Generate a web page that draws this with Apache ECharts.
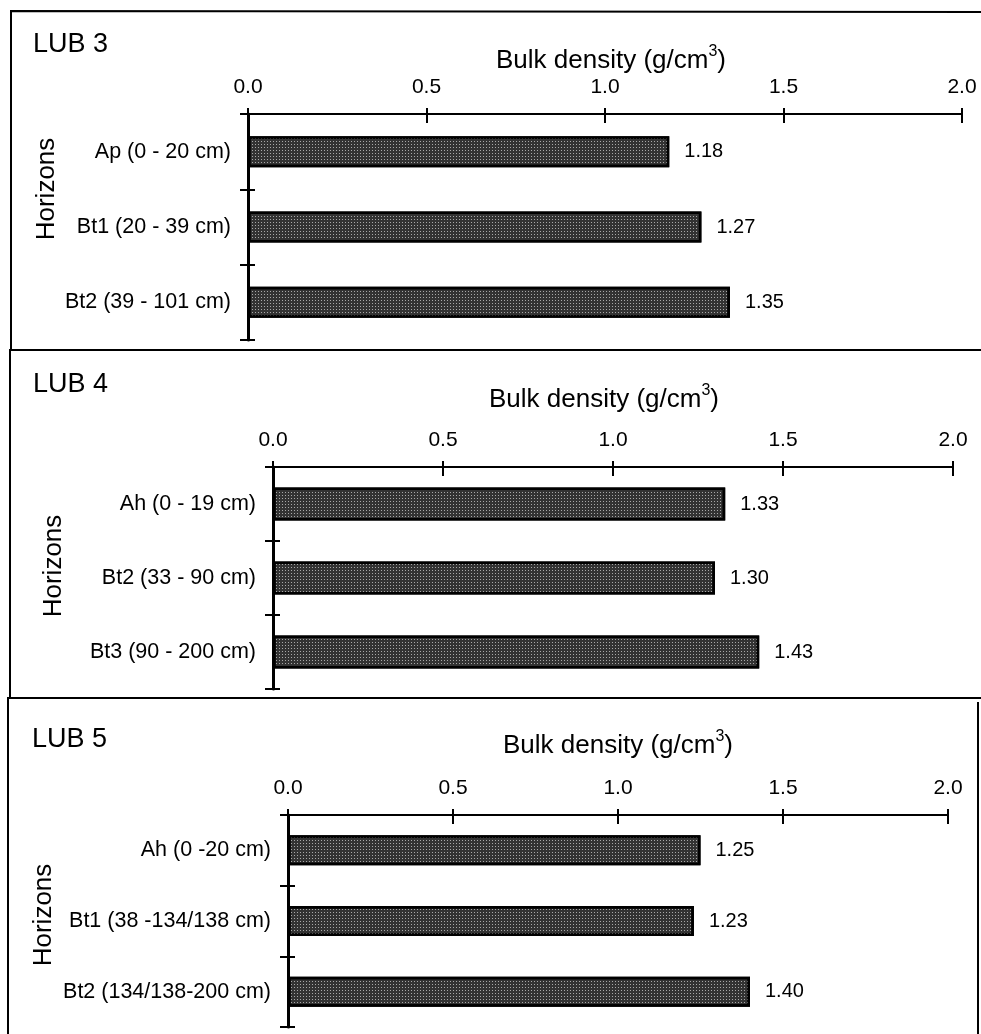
<!DOCTYPE html>
<html>
<head>
<meta charset="utf-8">
<title>Bulk density by horizon</title>
<script src="https://cdn.jsdelivr.net/npm/echarts@6/dist/echarts.min.js"></script>
<style>
  html, body { margin: 0; padding: 0; background: #fff; }
  #chart { width: 981px; height: 1034px; }
</style>
</head>
<body>
<div id="chart"></div>
<script>
// Profiles and their horizons
const profiles = ['LUB 3', 'LUB 4', 'LUB 5'];

const horizonsLub3 = ['Ap (0 - 20 cm)', 'Bt1 (20 - 39 cm)', 'Bt2 (39 - 101 cm)'];
const densityLub3 = [1.18, 1.27, 1.35];

const horizonsLub4 = ['Ah (0 - 19 cm)', 'Bt2 (33 - 90 cm)', 'Bt3 (90 - 200 cm)'];
const densityLub4 = [1.33, 1.30, 1.43];

const horizonsLub5 = ['Ah (0 -20 cm)', 'Bt1 (38 -134/138 cm)', 'Bt2 (134/138-200 cm)'];
const densityLub5 = [1.25, 1.23, 1.40];

// Bulk density axis: 0.0 .. 2.0 every 0.5
const axisMin = 0;
const axisMax = 2;
const axisStep = 0.5;

const horizonLists = [horizonsLub3, horizonsLub4, horizonsLub5];
const densityLists = [densityLub3, densityLub4, densityLub5];

// Panel geometry (pixels)
const panelLayout = [
  { grid: { left: 248, top: 114, width: 714, height: 226 }, barWidth: 31, nameGap: 40, namePad: [0, 0, 0, 12], lub: [33, 45], hor: [47, 189] },
  { grid: { left: 273, top: 467, width: 680, height: 222 }, barWidth: 33, nameGap: 54, namePad: [0, 18, 0, 0], lub: [33, 385], hor: [54, 566] },
  { grid: { left: 288, top: 815, width: 660, height: 212 }, barWidth: 30, nameGap: 56, namePad: [0, 0, 0, 0], lub: [32, 740], hor: [44, 915] }
];

const FONT = '"Liberation Sans", Arial, Helvetica, sans-serif';
const INK = '#000';

const grids = [];
const xAxes = [];
const yAxes = [];
const series = [];
const graphics = [];

panelLayout.forEach((p, i) => {
  // main grid: axis line, labels, outward ticks
  grids.push(Object.assign({ containLabel: false }, p.grid));
  // overlay grid on the same rectangle: the inward half of every tick
  grids.push(Object.assign({ containLabel: false }, p.grid));
  const gMain = i * 2;
  const gOver = i * 2 + 1;

  xAxes.push({
    gridIndex: gMain,
    type: 'value',
    position: 'top',
    min: axisMin, max: axisMax, interval: axisStep,
    name: '{t|Bulk density (g/cm}{s|3}{t|)}',
    nameLocation: 'middle',
    nameGap: p.nameGap,
    nameTextStyle: {
      padding: p.namePad,
      rich: {
        t: { fontFamily: FONT, fontSize: 26, lineHeight: 30, color: INK, verticalAlign: 'bottom' },
        s: { fontFamily: FONT, fontSize: 16, lineHeight: 16, color: INK, verticalAlign: 'top' }
      }
    },
    axisLine: { show: true, lineStyle: { color: INK, width: 2 } },
    axisTick: { show: true, inside: false, length: 6, lineStyle: { color: INK, width: 2 } },
    axisLabel: {
      show: true, margin: 16, color: INK, fontFamily: FONT, fontSize: 21,
      formatter: v => v.toFixed(1)
    },
    splitLine: { show: false }
  });
  xAxes.push({
    gridIndex: gOver,
    type: 'value',
    position: 'top',
    min: axisMin, max: axisMax, interval: axisStep,
    axisLine: { show: false },
    axisTick: { show: true, inside: true, length: 9, lineStyle: { color: INK, width: 2 } },
    axisLabel: { show: false },
    splitLine: { show: false }
  });

  yAxes.push({
    gridIndex: gMain,
    type: 'category',
    inverse: true,
    data: horizonLists[i],
    axisLine: { show: true, lineStyle: { color: INK, width: 3 } },
    axisTick: { show: true, inside: false, length: 8, lineStyle: { color: INK, width: 2 } },
    axisLabel: { show: true, margin: 17, color: INK, fontFamily: FONT, fontSize: 21.5 },
    splitLine: { show: false }
  });
  yAxes.push({
    gridIndex: gOver,
    type: 'category',
    inverse: true,
    data: horizonLists[i],
    axisLine: { show: false },
    axisTick: { show: true, inside: true, length: 7, lineStyle: { color: INK, width: 2 } },
    axisLabel: { show: false },
    splitLine: { show: false }
  });

  series.push({
    type: 'bar',
    xAxisIndex: gMain,
    yAxisIndex: gMain,
    data: densityLists[i],
    barWidth: p.barWidth,
    itemStyle: {
      color: '#333333',
      borderColor: INK,
      borderWidth: 2.5,
      decal: {
        symbol: 'rect',
        symbolSize: 1,
        color: '#a8a8a8',
        dashArrayX: [1, 2],
        dashArrayY: [1, 2],
        rotation: 0
      }
    },
    label: {
      show: true,
      position: 'right',
      distance: 15,
      color: INK,
      fontFamily: FONT,
      fontSize: 20,
      formatter: d => d.value.toFixed(2)
    },
    silent: true,
    animation: false
  });

  // profile name
  graphics.push({
    type: 'text',
    x: p.lub[0], y: p.lub[1],
    style: { text: profiles[i], font: '27px ' + FONT, fill: INK, textAlign: 'left', textVerticalAlign: 'middle' }
  });
  // category axis title
  graphics.push({
    type: 'text',
    x: p.hor[0], y: p.hor[1],
    rotation: Math.PI / 2,
    style: { text: 'Horizons', font: '26px ' + FONT, fill: INK, textAlign: 'center', textVerticalAlign: 'middle' }
  });
});

// panel frames
const frameStyle = { stroke: INK, lineWidth: 2, fill: null };
[
  [[11, 350], [11, 11], [981, 12]],
  [[10, 697], [10, 350], [981, 350]],
  [[8, 1034], [8, 698], [981, 698]],
  [[978, 702], [978, 1034]]
].forEach(pts => {
  graphics.push({ type: 'polyline', shape: { points: pts }, style: frameStyle, silent: true });
});

const chart = echarts.init(document.getElementById('chart'), null, { renderer: 'canvas' });
chart.setOption({
  backgroundColor: '#fff',
  animation: false,
  grid: grids,
  xAxis: xAxes,
  yAxis: yAxes,
  series: series,
  graphic: graphics
});
</script>
</body>
</html>
